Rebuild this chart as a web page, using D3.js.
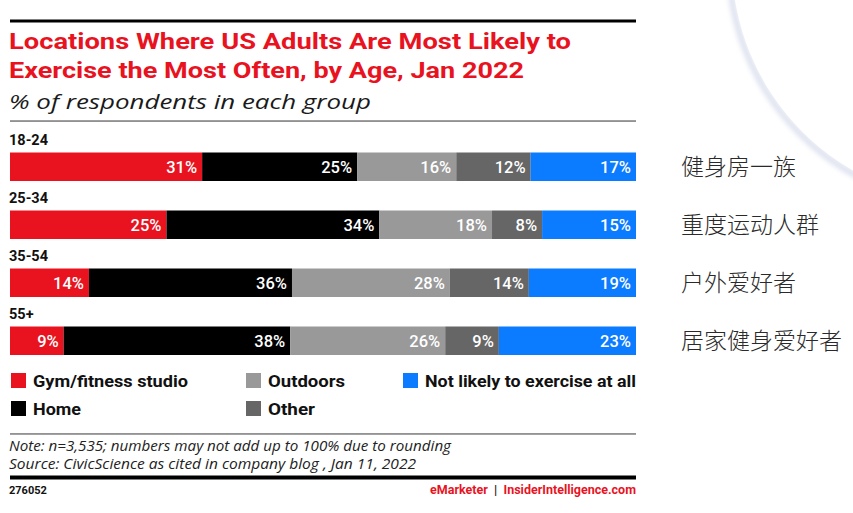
<!DOCTYPE html>
<html><head><meta charset="utf-8">
<script src="https://cdn.jsdelivr.net/npm/d3@7"></script>
<style>body{margin:0;background:#fff}svg{display:block}</style>
</head><body><svg id="c" width="853" height="513"></svg>
<script>
const categories = ["18-24","25-34","35-54","55+"];
const seriesNames = ["Gym/fitness studio","Home","Outdoors","Other","Not likely to exercise at all"];
const gym = [31,25,14,9];
const home = [25,34,36,38];
const outdoors = [16,18,28,26];
const other = [12,8,14,9];
const notLikely = [17,15,19,23];
const cnLabels = ["健身房一族","重度运动人群","户外爱好者","居家健身爱好者"];
const colors = ["#e8131f","#000000","#999999","#666666","#0b7bff"];
const titleLines = ["Locations Where US Adults Are Most Likely to","Exercise the Most Often, by Age, Jan 2022"];
const subtitle = "% of respondents in each group";
const noteLines = ["Note: n=3,535; numbers may not add up to 100% due to rounding","Source: CivicScience as cited in company blog , Jan 11, 2022"];

const valuesBySeries = [gym, home, outdoors, other, notLikely];
const rows = categories.map((c,i)=>{const r={cat:c}; seriesNames.forEach((s,j)=>r[s]=valuesBySeries[j][i]); return r;});

const svg = d3.select("#c");
const L = 10, R = 636;

// decorative arc top-right
const defs = svg.append("defs");
const f = defs.append("filter").attr("id","blur").attr("x","-20%").attr("y","-20%").attr("width","140%").attr("height","140%");
f.append("feGaussianBlur").attr("stdDeviation",2.5);
svg.append("circle").attr("cx",972).attr("cy",-38).attr("r",243).attr("fill","none")
  .attr("stroke","#dde1ee").attr("stroke-width",6).attr("filter","url(#blur)");
svg.append("circle").attr("cx",972).attr("cy",-38).attr("r",240).attr("fill","#fff");

// rules
svg.append("rect").attr("x",L).attr("y",19.5).attr("width",R-L).attr("height",3).attr("fill","#000");
svg.append("rect").attr("x",L).attr("y",120.3).attr("width",R-L).attr("height",1.5).attr("fill","#777");
svg.append("rect").attr("x",L).attr("y",433.3).attr("width",R-L).attr("height",1.3).attr("fill","#666");
svg.append("rect").attr("x",L).attr("y",475.5).attr("width",R-L).attr("height",4).attr("fill","#000");

function fitLen(sel, target){
  sel.attr("textLength",target).attr("lengthAdjust","spacingAndGlyphs");
}

// title
const t1 = svg.append("text").attr("x",L-1).attr("y",48.5).attr("font-family","Roboto, sans-serif")
  .attr("font-weight",700).attr("font-size",22).attr("fill","#e8131f").text(titleLines[0]);
fitLen(t1, 562);
const t2 = svg.append("text").attr("x",L-1).attr("y",77.5).attr("font-family","Roboto, sans-serif")
  .attr("font-weight",700).attr("font-size",22).attr("fill","#e8131f").text(titleLines[1]);
fitLen(t2, 515);
const st = svg.append("text").attr("x",L-1).attr("y",108.5).attr("font-family","'Open Sans', sans-serif")
  .attr("font-style","italic").attr("font-weight",400).attr("font-size",20.5).attr("fill","#1a1a1a").text(subtitle);
fitLen(st, 362);

// scales
const x = d3.scaleLinear().domain([0,1]).range([L,R]);
const y = d3.scaleBand().domain(categories).range([152.5,355]).paddingInner(0.5086).paddingOuter(0);
const color = d3.scaleOrdinal().domain(seriesNames).range(colors);
const stack = d3.stack().keys(seriesNames).offset(d3.stackOffsetExpand);
const stacked = stack(rows);

const g = svg.append("g");
const layers = g.selectAll("g.layer").data(stacked).join("g").attr("fill",d=>color(d.key));
layers.selectAll("rect").data(d=>d.map(p=>({p,key:d.key}))).join("rect")
  .attr("x",d=>x(d.p[0])).attr("y",d=>y(d.p.data.cat))
  .attr("width",d=>x(d.p[1])-x(d.p[0])).attr("height",y.bandwidth());
layers.selectAll("text").data(d=>d.map(p=>({p,key:d.key}))).join("text")
  .attr("x",d=>x(d.p[1])-5).attr("y",d=>y(d.p.data.cat)+y.bandwidth()/2+6)
  .attr("text-anchor","end").attr("font-family","Roboto, sans-serif").attr("font-weight",500)
  .attr("font-size",16.5).attr("fill","#fff").text(d=>d.p.data[d.key]+"%");

// age labels
svg.selectAll("text.age").data(categories).join("text").attr("class","age")
  .attr("x",L-1).attr("y",c=>y(c)-7.5).attr("font-family","Roboto, sans-serif")
  .attr("font-weight",700).attr("font-size",14.5).attr("fill","#111").text(c=>c);

// chinese labels
svg.selectAll("text.cn").data(cnLabels).join("text").attr("class","cn")
  .attr("x",681).attr("y",(d,i)=>y(categories[i])+y.bandwidth()/2+8)
  .attr("font-family","'Noto Sans CJK SC', sans-serif").attr("font-weight",300)
  .attr("font-size",23).attr("fill","#2a2a2a").text(d=>d);

// legend
const legCols = [11,246,403];
const legRows = [373,401];
const legWidths = [155,48,77,47,211];
const lg = svg.selectAll("g.leg").data(seriesNames).join("g").attr("class","leg")
  .attr("transform",(d,i)=>`translate(${legCols[Math.floor(i/2)]},${legRows[i%2]})`);
lg.append("rect").attr("width",15).attr("height",15).attr("fill",d=>color(d));
lg.append("text").attr("x",22).attr("y",13.5).attr("font-family","Roboto, sans-serif")
  .attr("font-weight",700).attr("font-size",16.5).attr("fill","#111").text(d=>d)
  .attr("textLength",(d,i)=>legWidths[i]).attr("lengthAdjust","spacingAndGlyphs");

// notes
const noteW = [442,407];
noteLines.forEach((t,i)=>{
  const n = svg.append("text").attr("x",L-1).attr("y",451+i*17.5).attr("font-family","'Open Sans', sans-serif")
    .attr("font-style","italic").attr("font-size",14).attr("fill","#222").text(t);
  fitLen(n, noteW[i]);
});

// footer
svg.append("text").attr("x",L-1).attr("y",494).attr("font-family","Roboto, sans-serif")
  .attr("font-weight",700).attr("font-size",11).attr("fill","#111").text("276052");
const ft = svg.append("text").attr("x",R).attr("y",494).attr("text-anchor","end")
  .attr("font-family","Roboto, sans-serif").attr("font-weight",700).attr("font-size",12.5);
ft.append("tspan").attr("fill","#e8131f").text("eMarketer");
ft.append("tspan").attr("fill","#222").attr("xml:space","preserve").text("  |  ");
ft.append("tspan").attr("fill","#e8131f").text("InsiderIntelligence.com");
</script></body></html>
